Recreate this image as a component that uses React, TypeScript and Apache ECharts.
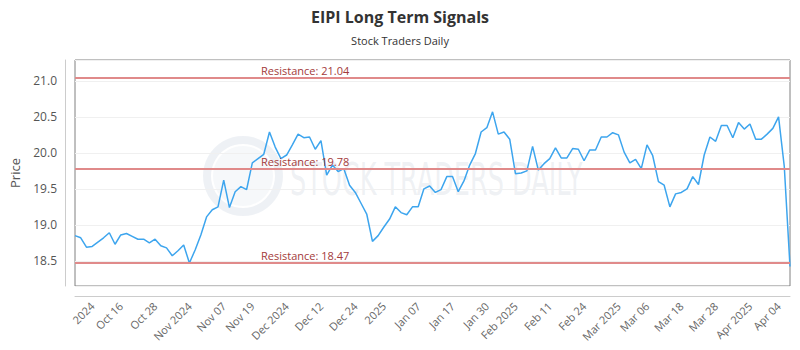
import React, { useEffect, useRef } from "react";
import * as echarts from "echarts";

const titleText = "EIPI Long Term Signals";
const subtitleText = "Stock Traders Daily";

const prices = [
  18.85, 18.82, 18.69, 18.70, 18.76, 18.82, 18.89, 18.73, 18.86, 18.88,
  18.84, 18.80, 18.80, 18.75, 18.80, 18.71, 18.68, 18.57, 18.64, 18.72,
  18.47, 18.65, 18.86, 19.11, 19.21, 19.25, 19.62, 19.24, 19.46, 19.53,
  19.49, 19.86, 19.92, 19.98, 20.29, 20.08, 19.92, 19.97, 20.11, 20.26,
  20.21, 20.22, 20.05, 20.17, 19.69, 19.83, 19.74, 19.78, 19.55, 19.45,
  19.30, 19.15, 18.77, 18.85, 18.97, 19.08, 19.25, 19.17, 19.14, 19.25,
  19.25, 19.50, 19.54, 19.45, 19.49, 19.67, 19.67, 19.46, 19.61, 19.83,
  19.99, 20.29, 20.35, 20.57, 20.26, 20.29, 20.19, 19.71, 19.72, 19.75,
  20.09, 19.76, 19.85, 19.92, 20.07, 19.93, 19.93, 20.06, 20.05, 19.89,
  20.04, 20.04, 20.22, 20.22, 20.28, 20.25, 20.01, 19.86, 19.91, 19.78,
  20.11, 19.96, 19.60, 19.55, 19.25, 19.43, 19.45, 19.50, 19.67, 19.56,
  19.97, 20.22, 20.16, 20.38, 20.38, 20.21, 20.42, 20.33, 20.40, 20.19,
  20.19, 20.26, 20.34, 20.50, 19.81, 18.42,
];

const tickLabels = [
  "2024", "Oct 16", "Oct 28", "Nov 2024", "Nov 07", "Nov 19", "Dec 2024",
  "Dec 12", "Dec 24", "2025", "Jan 07", "Jan 17", "Jan 30", "Feb 2025",
  "Feb 11", "Feb 24", "Mar 2025", "Mar 06", "Mar 18", "Mar 28", "Apr 2025",
  "Apr 04",
];
const tickSlots = [
  3, 8, 14, 20, 26, 31, 37, 43, 49, 54, 60, 66, 72, 77, 83, 89, 95, 100, 106,
  112, 118, 123,
];

const resistanceLevels = [21.04, 19.78, 18.47];

const categories = prices.map((_, i) => {
  const k = tickSlots.indexOf(i);
  return k >= 0 ? tickLabels[k] : "d" + i;
});

export default function App() {
  const ref = useRef<HTMLDivElement>(null);
  useEffect(() => {
    document.body.style.margin = "0";
    if (!ref.current) return;
    const chart = echarts.init(ref.current, null, { renderer: "svg" });
    const font = "'Open Sans', 'Noto Sans', sans-serif";
    chart.setOption({
      animation: false,
      backgroundColor: "#ffffff",
      textStyle: { fontFamily: font },
      title: {
        text: titleText,
        subtext: subtitleText,
        left: "center",
        top: 4,
        itemGap: 10,
        textStyle: { fontSize: 16, fontWeight: "bold", color: "#333333", fontFamily: font },
        subtextStyle: { fontSize: 11, color: "#333333", fontFamily: font },
      },
      graphic: [
        {
          type: "ring",
          shape: { cx: 243, cy: 176, r: 40, r0: 32 },
          style: { fill: "rgba(200,210,222,0.3)" },
          silent: true,
          z: 0,
        },
        {
          type: "circle",
          shape: { cx: 243, cy: 176, r: 30 },
          style: { fill: "rgba(215,222,232,0.22)" },
          silent: true,
          z: 0,
        },
        {
          type: "text",
          x: 290,
          y: 158,
          scaleX: 0.58,
          style: {
            text: "STOCK TRADERS DAILY",
            fontSize: 44,
            fontWeight: "normal",
            fontFamily: "'DejaVu Sans', sans-serif",
            fill: "rgba(205,212,222,0.32)",
          },
          silent: true,
          z: 0,
        },
      ],
      grid: {
        left: 71,
        right: 10,
        top: 60,
        bottom: 64,
        show: true,
        borderColor: "#808080",
        borderWidth: 1,
        backgroundColor: "transparent",
      },
      xAxis: {
        type: "category",
        data: categories,
        boundaryGap: false,
        offset: 10,
        axisLine: { show: true, lineStyle: { color: "#cccccc" } },
        axisTick: { show: false },
        splitLine: { show: false },
        axisLabel: {
          rotate: 45,
          interval: (i: number) => tickSlots.includes(i),
          formatter: (v: string) => v,
          fontSize: 11,
          color: "#666666",
          margin: 8,
        },
      },
      yAxis: {
        type: "value",
        min: 18.15,
        max: 21.29,
        splitNumber: 6,
        offset: 10,
        name: "Price",
        nameLocation: "middle",
        nameGap: 44,
        nameTextStyle: { fontSize: 13, color: "#555555" },
        axisLine: { show: true, lineStyle: { color: "#cccccc" } },
        axisTick: { show: false },
        splitLine: { show: true, lineStyle: { color: "#f0f0f0" } },
        axisLabel: {
          fontSize: 12,
          color: "#555555",
          margin: 8,
          showMinLabel: false,
          showMaxLabel: false,
          formatter: (v: number) => v.toFixed(1),
        },
      },
      series: [
        {
          type: "line",
          data: prices,
          symbol: "none",
          lineStyle: { color: "#3da5ee", width: 1.5 },
          z: 3,
          markLine: {
            silent: true,
            symbol: "none",
            lineStyle: { color: "#e08a8a", width: 2, type: "solid" },
            label: {
              position: "insideStartTop",
              distance: [186, 2],
              color: "#a33a3a",
              fontSize: 11,
              formatter: (p: any) => "Resistance: " + p.value.toFixed(2),
            },
            data: resistanceLevels.map((v) => ({ yAxis: v })),
          },
        },
      ],
    });
    return () => chart.dispose();
  }, []);
  return <div ref={ref} style={{ width: 800, height: 350 }} />;
}
